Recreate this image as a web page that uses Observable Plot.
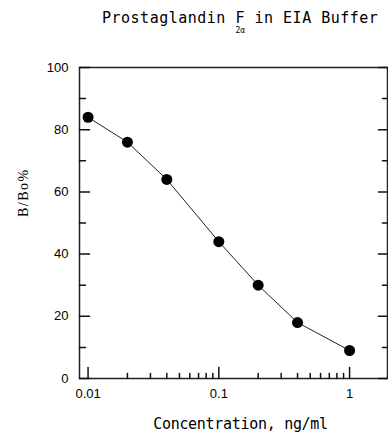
<!DOCTYPE html>
<html><head><meta charset="utf-8">
<script src="https://cdn.jsdelivr.net/npm/d3@7"></script>
<script src="https://cdn.jsdelivr.net/npm/@observablehq/plot@0.6"></script>
<style>
body{margin:0;background:#fff;}
#wrap{position:relative;width:388px;height:433px;overflow:hidden;}
#title{position:absolute;left:102px;top:10px;white-space:nowrap;font-family:"DejaVu Sans Mono",monospace;font-size:15px;letter-spacing:0.5px;color:#000;line-height:16px;}
#title .f{position:relative;display:inline-block;}
#title .f sub{position:absolute;left:0px;top:17px;font-size:8px;letter-spacing:0;line-height:8px;}
</style></head><body>
<div id="wrap"><div id="title">Prostaglandin <span class="f">F<sub>2α</sub></span> in EIA Buffer</div></div>
<script>
const concentration = [0.01, 0.02, 0.04, 0.1, 0.2, 0.4, 1];
const bBo = [84, 76, 64, 44, 30, 18, 9];
const yMajorTicks = [0, 20, 40, 60, 80, 100];
const yMinorTicks = [10, 30, 50, 70, 90];
const xMajorTicks = [0.01, 0.1, 1];
const xTickLabels = ["0.01", "0.1", "1"];
const xMinorTicks = [0.02, 0.03, 0.04, 0.05, 0.06, 0.07, 0.08, 0.09, 0.2, 0.3, 0.4, 0.5, 0.6, 0.7, 0.8, 0.9];
const xTitle = "Concentration, ng/ml";
const yTitle = "B/Bo%";

const data = concentration.map((c, i) => ({c, b: bBo[i]}));
const line = {draw(context, l) { context.moveTo(0, 0); context.lineTo(0, -l); }};
const tickStyle = {stroke: "#111", strokeWidth: 1.5, shape: line, anchor: "start"};

const chart = Plot.plot({
  width: 388,
  height: 433,
  marginLeft: 79,
  marginRight: 1,
  marginTop: 67,
  marginBottom: 55,
  style: {fontFamily: "'Liberation Sans', Arial, sans-serif", fontSize: "13px", color: "#000", background: "#fff"},
  x: {type: "log", domain: [0.0086, 1.95]},
  y: {domain: [0, 100]},
  marks: [
    Plot.frame({stroke: "#222", strokeWidth: 1.5}),
    // inward ticks
    Plot.vector(yMajorTicks, {y: (d) => d, frameAnchor: "left", rotate: 90, length: 10, ...tickStyle}),
    Plot.vector(yMinorTicks, {y: (d) => d, frameAnchor: "left", rotate: 90, length: 6, ...tickStyle}),
    Plot.vector(yMajorTicks, {y: (d) => d, frameAnchor: "right", rotate: -90, length: 9, ...tickStyle}),
    Plot.vector(yMinorTicks, {y: (d) => d, frameAnchor: "right", rotate: -90, length: 5, ...tickStyle}),
    Plot.vector(xMajorTicks, {x: (d) => d, frameAnchor: "bottom", rotate: 0, length: 11, ...tickStyle}),
    Plot.vector(xMinorTicks, {x: (d) => d, frameAnchor: "bottom", rotate: 0, length: 5, ...tickStyle}),
    // tick labels
    Plot.axisY(yMajorTicks, {anchor: "left", tickSize: 0, tickPadding: 11, label: null, fontSize: 13}),
    Plot.axisX(xMajorTicks, {anchor: "bottom", tickSize: 0, tickPadding: 10, label: null, fontSize: 13,
      tickFormat: (d) => xTickLabels[xMajorTicks.indexOf(d)]}),
    // axis titles
    Plot.text([xTitle], {frameAnchor: "bottom", text: (d) => d, dx: 7, dy: 50,
      fontFamily: "'DejaVu Sans Mono', monospace", fontSize: 15, lineAnchor: "bottom", fill: "#000"}),
    Plot.text([yTitle], {frameAnchor: "left", text: (d) => d, rotate: -90, dx: -56, dy: -6,
      fontFamily: "'Liberation Serif', serif", fontSize: 14, fill: "#000"}),
    // data
    Plot.line(data, {x: "c", y: "b", stroke: "#222", strokeWidth: 1}),
    Plot.dot(data, {x: "c", y: "b", r: 5.5, fill: "#000", stroke: "none"})
  ]
});
chart.querySelectorAll("text").forEach(t => {
  const txt = t.textContent;
  if (txt === xTitle) t.setAttribute("letter-spacing", "-0.3");
  if (txt === yTitle) t.setAttribute("letter-spacing", "1.5");
});
document.getElementById("wrap").prepend(chart);
</script>
</body></html>
